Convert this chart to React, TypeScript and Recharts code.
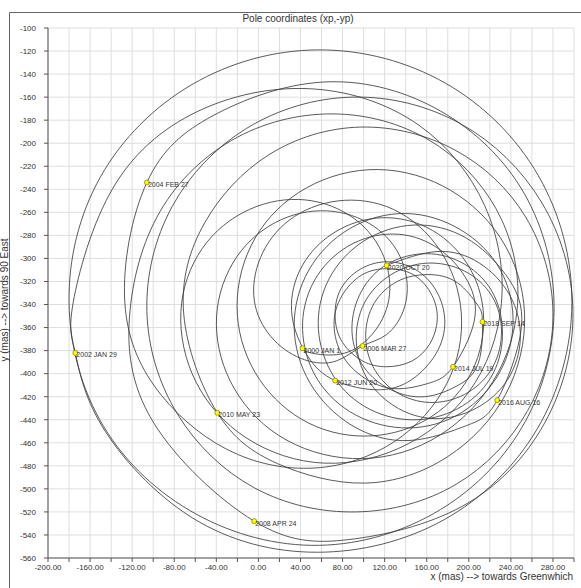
import { ComposedChart, Line, Scatter, XAxis, YAxis, CartesianGrid } from 'recharts';

const FONT = '"Liberation Sans", Arial, sans-serif';

// pole track (x, -y) in mas, one list per two-year stretch
const track2000 = [[42,-378],[50,-382],[78,-383],[105,-369],[123,-340],[121,-303],[96,-269],[51,-250],[-2,-255],[-49,-286],[-73,-339],[-63,-400],[-19,-451],[53,-477],[133,-465],[200,-416],[231,-339],[215,-254],[152,-184],[54,-153],[-52,-170],[-137,-237],[-176,-338]];
const track2002 = [[-174,-382],[-149,-445],[-63,-525],[56,-555],[176,-527],[265,-448],[298,-338],[266,-228],[178,-148],[57,-119],[-63,-149],[-150,-229],[-180,-338],[-147,-446],[-59,-522],[58,-549],[173,-518],[254,-441],[281,-338],[249,-238],[167,-169],[60,-147],[-43,-176]];
const track2004 = [[-106,-234],[-127,-338],[-92,-419],[-20,-470],[64,-481],[137,-454],[183,-401],[192,-340],[168,-287],[122,-255],[69,-251],[25,-270],[0,-304],[-3,-341],[15,-371],[44,-388],[74,-389]];
const track2006 = [[99,-376],[122,-366],[139,-342],[139,-309],[118,-278],[77,-260],[28,-264],[-16,-293],[-39,-343],[-30,-400],[12,-449],[80,-473],[155,-462],[217,-415],[246,-344],[231,-266],[172,-203],[83,-175],[-14,-192],[-90,-254],[-122,-345],[-100,-442]];
const track2008 = [[-4,-528],[86,-544],[194,-515],[272,-443],[299,-346],[269,-251],[192,-183],[89,-160],[-11,-187],[-82,-255],[-106,-346],[-77,-435],[-4,-499],[93,-520],[188,-496],[256,-432],[280,-347],[254,-264],[187,-206],[97,-186],[10,-210],[-51,-269],[-71,-348]];
const track2010 = [[-39,-434],[18,-478],[101,-495],[180,-472],[235,-418],[253,-348],[230,-282],[175,-237],[105,-223],[38,-243],[-7,-289],[-20,-349],[1,-405],[48,-443],[108,-454],[165,-437],[203,-398],[214,-349],[198,-304],[160,-273],[112,-265],[68,-280],[39,-311],[32,-350],[47,-385]];
const track2012 = [[73,-406],[116,-414],[149,-403],[171,-379],[177,-351],[167,-325],[146,-308],[119,-303],[94,-311],[77,-329],[73,-352],[80,-373],[99,-389],[122,-394],[146,-389],[163,-374],[170,-353],[165,-332],[149,-315],[126,-309],[101,-313],[81,-330],[72,-354],[78,-381],[98,-402],[129,-413],[163,-408]];
const track2014 = [[185,-394],[205,-355],[199,-320],[172,-292],[133,-279],[90,-287],[56,-315],[42,-356],[53,-400],[87,-433],[136,-447],[187,-437],[226,-404],[242,-358],[230,-310],[192,-275],[140,-261],[87,-274],[48,-310],[34,-359],[49,-408],[89,-445],[144,-458],[198,-445]];
const track2016 = [[227,-423],[250,-360],[235,-314],[197,-282],[148,-271],[100,-285],[67,-318],[57,-361],[72,-403],[106,-431],[151,-440],[194,-428],[223,-400],[232,-363],[221,-327],[192,-303],[155,-296],[119,-307],[96,-332],[89,-364],[100,-394],[126,-414],[158,-420],[188,-411],[209,-391]];
const track2018 = [[213,-355],[208,-340],[189,-321],[161,-314],[132,-320],[110,-339],[102,-366],[109,-394],[131,-416],[163,-425],[196,-418],[221,-397],[231,-367],[224,-336],[200,-313],[165,-304],[130,-312],[103,-335],[93,-368],[102,-402],[129,-428],[167,-439],[207,-430],[237,-405],[249,-369],[239,-332],[210,-304],[170,-294],[122,-306]];

const markerLabels = ['2000 JAN 1', '2002 JAN 29', '2004 FEB 27', '2006 MAR 27', '2008 APR 24', '2010 MAY 23', '2012 JUN 20', '2014 JUL 19', '2016 AUG 16', '2018 SEP 14', '2020 OCT 20'];
const markerX = [42, -174, -106, 99, -4, -39, 73, 185, 227, 213, 122];
const markerY = [-378, -382, -234, -376, -528, -434, -406, -394, -423, -355, -306];

const xTicks = [-200, -180, -160, -140, -120, -100, -80, -60, -40, -20, 0, 20, 40, 60, 80, 100, 120, 140, 160, 180, 200, 220, 240, 260, 280, 300];
const yTicks = [-560, -540, -520, -500, -480, -460, -440, -420, -400, -380, -360, -340, -320, -300, -280, -260, -240, -220, -200, -180, -160, -140, -120, -100];

const tracks = [track2000, track2002, track2004, track2006, track2008, track2010, track2012, track2014, track2016, track2018];
const path = tracks.flat().map(([x, y]) => ({ x, y }));
const markers = markerLabels.map((label, i) => ({ x: markerX[i], y: markerY[i], label }));

const fmtX = (v: number) => (v % 40 === 0 ? v.toFixed(2) : '');

function MarkerDot(props: any) {
  const { cx, cy, payload } = props;
  if (cx == null || cy == null) return null;
  return (
    <g>
      <circle cx={cx} cy={cy} r={2.5} fill="#ffff00" stroke="#8a8a00" strokeWidth={0.8} />
      <text x={cx + 1} y={cy + 4.5} fontSize={7} fill="#333" fontFamily={FONT}>
        {payload.label}
      </text>
    </g>
  );
}

export default function App() {
  const tick = { fontSize: 8, fill: '#333', fontFamily: FONT };
  return (
    <div style={{ position: 'absolute', left: 0, top: 0, width: 581, height: 588, background: '#fff' }}>
      <ComposedChart width={581} height={588} data={path} margin={{ top: 28, right: 7, bottom: 0, left: 8 }}>
        <CartesianGrid stroke="#dedede" />
        <XAxis
          type="number"
          dataKey="x"
          domain={[-200, 300]}
          ticks={xTicks}
          interval={0}
          tickFormatter={fmtX}
          height={30}
          tickSize={4}
          stroke="#555"
          tick={tick}
          allowDataOverflow
        />
        <YAxis
          type="number"
          domain={[-560, -100]}
          ticks={yTicks}
          interval={0}
          width={40}
          tickSize={4}
          tickMargin={8}
          stroke="#555"
          tick={tick}
          allowDataOverflow
        />
        <Line dataKey="y" type="natural" stroke="#3c3c3c" strokeWidth={0.85} dot={false} isAnimationActive={false} />
        <Scatter data={markers} dataKey="y" shape={MarkerDot} isAnimationActive={false} />
      </ComposedChart>
      <svg width={581} height={588} style={{ position: 'absolute', left: 0, top: 0, pointerEvents: 'none' }}>
        <line x1={9.5} y1={12.5} x2={581} y2={12.5} stroke="#666" />
        <line x1={9.5} y1={12.5} x2={9.5} y2={588} stroke="#666" />
        <text x={298} y={22} textAnchor="middle" fontSize={10} fill="#333" fontFamily={FONT}>
          Pole coordinates (xp,-yp)
        </text>
        <text x={573} y={580} textAnchor="end" fontSize={10} fill="#333" fontFamily={FONT}>
          {'x (mas) --> towards Greenwhich'}
        </text>
        <text x={8} y={300} transform="rotate(-90 8 300)" textAnchor="middle" fontSize={10} fill="#333" fontFamily={FONT}>
          {'y (mas) --> towards 90 East'}
        </text>
      </svg>
    </div>
  );
}
